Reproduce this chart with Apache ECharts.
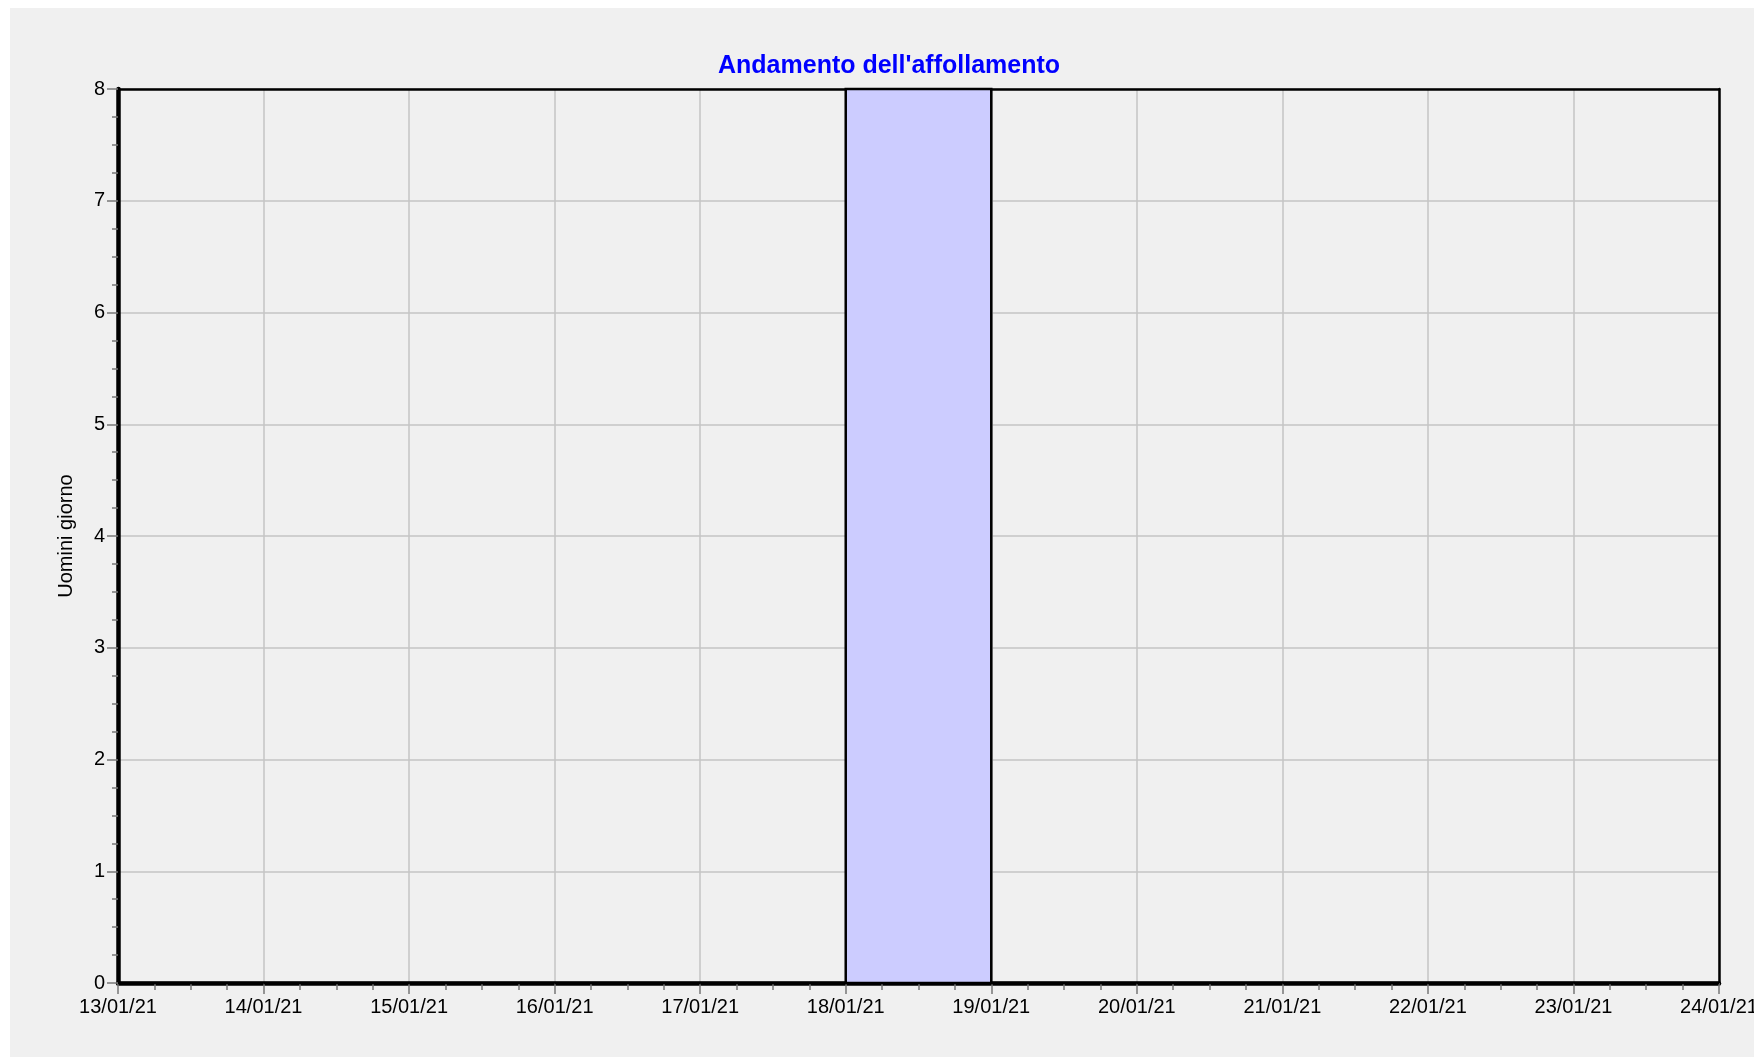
<!DOCTYPE html>
<html>
<head>
<meta charset="utf-8">
<title>Andamento dell'affollamento</title>
<script src="https://cdn.jsdelivr.net/npm/echarts@6/dist/echarts.min.js"></script>
<style>
html, body { margin: 0; padding: 0; background: #fff; overflow: hidden; }
#chart { position: absolute; left: 10px; top: 8px; width: 1744px; height: 1049px; }
</style>
</head>
<body>
<div id="chart"></div>
<script>
// giorni (etichette dell'asse x, un tick per ogni giorno)
var dayLabels = ['13/01/21', '14/01/21', '15/01/21', '16/01/21', '17/01/21', '18/01/21',
                 '19/01/21', '20/01/21', '21/01/21', '22/01/21', '23/01/21', '24/01/21'];
// uomini giorno per ciascun giorno (dal 13/01 al 23/01)
var uominiGiorno = [0, 0, 0, 0, 0, 8, 0, 0, 0, 0, 0];
var yTicks = [0, 1, 2, 3, 4, 5, 6, 7, 8];

var barData = [];
for (var i = 0; i < uominiGiorno.length; i++) {
    barData.push([i, i + 1, uominiGiorno[i]]);
}

var myChart = echarts.init(document.getElementById('chart'));

var options = {
    backgroundColor: '#f0f0f0',
    animation: false,
    title: {
        text: "Andamento dell'affollamento",
        left: 703,
        top: 41,
        textStyle: {
            color: '#0000ff',
            fontFamily: 'Liberation Sans',
            fontWeight: 'bold',
            fontSize: 25
        }
    },
    grid: {
        left: 108,
        top: 81,
        right: 35,
        bottom: 74,
        outerBoundsMode: 'none',
        containLabel: false
    },
    xAxis: [
        {
            type: 'value',
            min: 0,
            max: dayLabels.length - 1,
            interval: 1,
            axisLine: { lineStyle: { color: '#000', width: 4.5 } },
            axisTick: { length: 11, lineStyle: { color: '#777', width: 1.5 } },
            minorTick: { show: true, splitNumber: 4, length: 7, lineStyle: { color: '#777', width: 1.5 } },
            splitLine: { show: true, lineStyle: { color: '#c4c4c4', width: 1.5 } },
            axisLabel: {
                margin: 14,
                color: '#000',
                fontFamily: 'Liberation Sans',
                fontSize: 20,
                formatter: function (v) { return dayLabels[v]; }
            }
        },
        {
            // bordo superiore
            type: 'value',
            position: 'top',
            min: 0,
            max: dayLabels.length - 1,
            axisLine: { show: true, onZero: false, lineStyle: { color: '#000', width: 2.5 } },
            axisTick: { show: false },
            axisLabel: { show: false },
            splitLine: { show: false }
        }
    ],
    yAxis: [
        {
            type: 'value',
            min: yTicks[0],
            max: yTicks[yTicks.length - 1],
            interval: 1,
            name: 'Uomini giorno',
            nameLocation: 'middle',
            nameGap: 42,
            nameTextStyle: { color: '#000', fontFamily: 'Liberation Sans', fontSize: 20 },
            axisLine: { show: true, lineStyle: { color: '#000', width: 4.5 } },
            axisTick: { show: true, length: 11, lineStyle: { color: '#777', width: 1.5 } },
            minorTick: { show: true, splitNumber: 4, length: 6, lineStyle: { color: '#777', width: 1.5 } },
            splitLine: { show: true, lineStyle: { color: '#c4c4c4', width: 1.5 } },
            axisLabel: {
                margin: 13,
                color: '#000',
                fontFamily: 'Liberation Sans',
                fontSize: 20
            }
        },
        {
            // bordo destro
            type: 'value',
            position: 'right',
            min: yTicks[0],
            max: yTicks[yTicks.length - 1],
            axisLine: { show: true, onZero: false, lineStyle: { color: '#000', width: 2.5 } },
            axisTick: { show: false },
            axisLabel: { show: false },
            splitLine: { show: false }
        }
    ],
    series: [
        {
            name: 'Uomini giorno',
            type: 'custom',
            data: barData,
            encode: { x: [0, 1], y: 2 },
            renderItem: function (params, api) {
                var start = api.coord([api.value(0), 0]);
                var end = api.coord([api.value(1), api.value(2)]);
                return {
                    type: 'rect',
                    shape: {
                        x: start[0],
                        y: end[1],
                        width: end[0] - start[0],
                        height: start[1] - end[1]
                    },
                    style: { fill: '#ccccff', stroke: '#000', lineWidth: 2.5 }
                };
            }
        }
    ]
};
myChart.setOption(options);
</script>
</body>
</html>
